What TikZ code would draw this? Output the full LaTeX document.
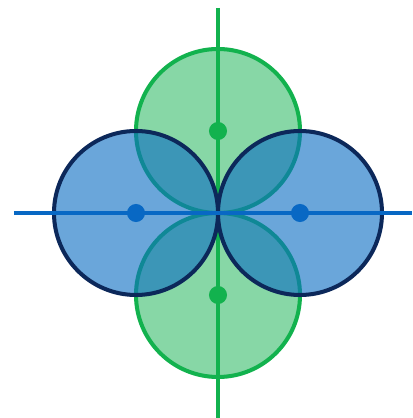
\documentclass[tikz,border=0pt]{standalone}
\usepackage{xcolor}
\usepackage{tikz}
\usetikzlibrary{positioning,calc}
\definecolor{grnline}{RGB}{18,178,78}
\definecolor{grnfill}{RGB}{135,215,166}
\definecolor{blufill}{RGB}{14,111,195}
\definecolor{bluline}{RGB}{8,104,196}
\definecolor{navy}{RGB}{12,40,90}

\begin{document}
\begin{tikzpicture}[x=1cm, y=1cm, gcirc/.style={circle, draw=grnline, fill=grnfill, line width=2.8pt, minimum size=4cm, inner sep=0pt}, bcirc/.style={circle, draw=navy, fill=blufill, fill opacity=0.62, line width=2.8pt, minimum size=4cm, inner sep=0pt}, dot/.style={circle, fill=#1, minimum size=0.44cm, inner sep=0pt}, axis/.style={line width=2.1pt}]
\useasboundingbox (-5.317,-5.0) rectangle (4.732,5.195);
\coordinate (vtop) at (0,5.0);
\coordinate (vbot) at (0,-5.0);
\coordinate (hleft) at (-4.976,0);
\coordinate (hright) at (4.732,0);
% green pair
\node[gcirc] (gup) at (0,2) {};
\node[gcirc] (gdown) at (0,-2) {};
\draw[axis, grnline] (vtop) -- (vbot);
\node[dot=grnline] (gupc) at (gup.center) {};
\node[dot=grnline] (gdownc) at (gdown.center) {};
% blue pair
\node[bcirc] (bleft) at (-2,0) {};
\node[bcirc] (bright) at (2,0) {};
\draw[axis, bluline] (hleft) -- (hright);
\node[dot=bluline] (bleftc) at (bleft.center) {};
\node[dot=bluline] (brightc) at (bright.center) {};
\end{tikzpicture}
\end{document}
